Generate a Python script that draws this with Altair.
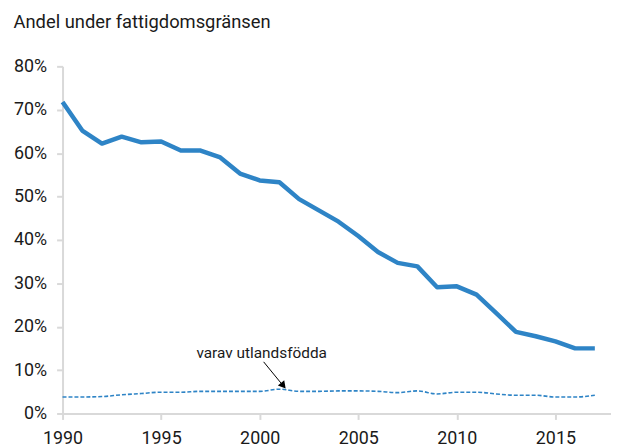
import altair as alt
import pandas as pd

years = list(range(1990, 2018))
total = [71.8, 65.2, 62.2, 63.8, 62.5, 62.7, 60.6, 60.6, 59.0, 55.3, 53.7, 53.3,
         49.4, 46.8, 44.2, 40.9, 37.2, 34.7, 33.9, 29.1, 29.3, 27.4, 23.1, 18.8,
         17.8, 16.6, 15.0, 15.0]
foreign = [3.8, 3.8, 3.9, 4.3, 4.6, 4.9, 4.9, 5.1, 5.1, 5.1, 5.1, 5.6,
           5.1, 5.1, 5.2, 5.2, 5.1, 4.8, 5.2, 4.5, 4.9, 4.9, 4.5, 4.2,
           4.2, 3.8, 3.8, 4.2]

x_ticks = [1990, 1995, 2000, 2005, 2010, 2015]
y_ticks = [0, 10, 20, 30, 40, 50, 60, 70, 80]

label_text = ["varav utlandsfödda"]
label_x = [2000.1]
label_y = [14.0]
arrow_x = [2000.2, 2001.1]
arrow_y = [11.9, 6.9]
head_x = [2001.2]
head_y = [6.4]

FONT = "Roboto"
BLUE = "#2e84c6"

df = pd.DataFrame({"year": years, "total": total, "foreign": foreign})

xscale = alt.Scale(domain=[1990, 2017.82], nice=False, zero=False)
yscale = alt.Scale(domain=[0, 80], nice=False)

xaxis = alt.Axis(values=x_ticks, format="d", title=None, grid=False,
                 labelFlush=False, labelOverlap=False,
                 domainColor="#d9d9d9", domainWidth=2, tickColor="#d9d9d9",
                 tickWidth=2, tickSize=6, labelPadding=10, labelFontSize=18,
                 labelFont=FONT, labelColor="#1a1a1a")
yaxis = alt.Axis(values=y_ticks, labelExpr="datum.value + '%'", title=None,
                 grid=False, domainColor="#d9d9d9", domainWidth=2,
                 tickColor="#d9d9d9", tickWidth=2, tickSize=6, labelPadding=10,
                 labelFontSize=18, labelFont=FONT, labelColor="#1a1a1a")

base = alt.Chart(df)
main = base.mark_line(color=BLUE, strokeWidth=4.5, strokeJoin="round").encode(
    x=alt.X("year:Q", scale=xscale, axis=xaxis),
    y=alt.Y("total:Q", scale=yscale, axis=yaxis),
)
dashed = base.mark_line(color=BLUE, strokeWidth=1.6, strokeDash=[4, 2],
                        interpolate="monotone").encode(
    x=alt.X("year:Q", scale=xscale),
    y=alt.Y("foreign:Q", scale=yscale),
)

lab = alt.Chart(pd.DataFrame({"t": label_text, "x": label_x, "y": label_y})).mark_text(
    font=FONT, fontSize=15.5, color="#1a1a1a", align="center", baseline="middle"
).encode(x=alt.X("x:Q", scale=xscale), y=alt.Y("y:Q", scale=yscale), text="t:N")

arrow = alt.Chart(pd.DataFrame({"x": arrow_x, "y": arrow_y})).mark_line(
    color="#000000", strokeWidth=1
).encode(x=alt.X("x:Q", scale=xscale), y=alt.Y("y:Q", scale=yscale))

head = alt.Chart(pd.DataFrame({"x": head_x, "y": head_y})).mark_point(
    shape="triangle-up", filled=True, color="#000000", opacity=1, size=70, angle=140
).encode(x=alt.X("x:Q", scale=xscale), y=alt.Y("y:Q", scale=yscale))

chart = alt.layer(main, dashed, arrow, head, lab).properties(
    width=553, height=350,
    autosize=alt.AutoSizeParams(type="none"),
    padding={"left": 55, "top": 57, "right": 0, "bottom": 35},
    title=alt.TitleParams("Andel under fattigdomsgränsen", anchor="start",
                          frame="bounds", font=FONT, fontSize=18.5,
                          fontWeight="normal", color="#1a1a1a", offset=26),
).configure_view(stroke=None)

chart.save("out.html", embed_options={"renderer": "svg", "actions": False})
